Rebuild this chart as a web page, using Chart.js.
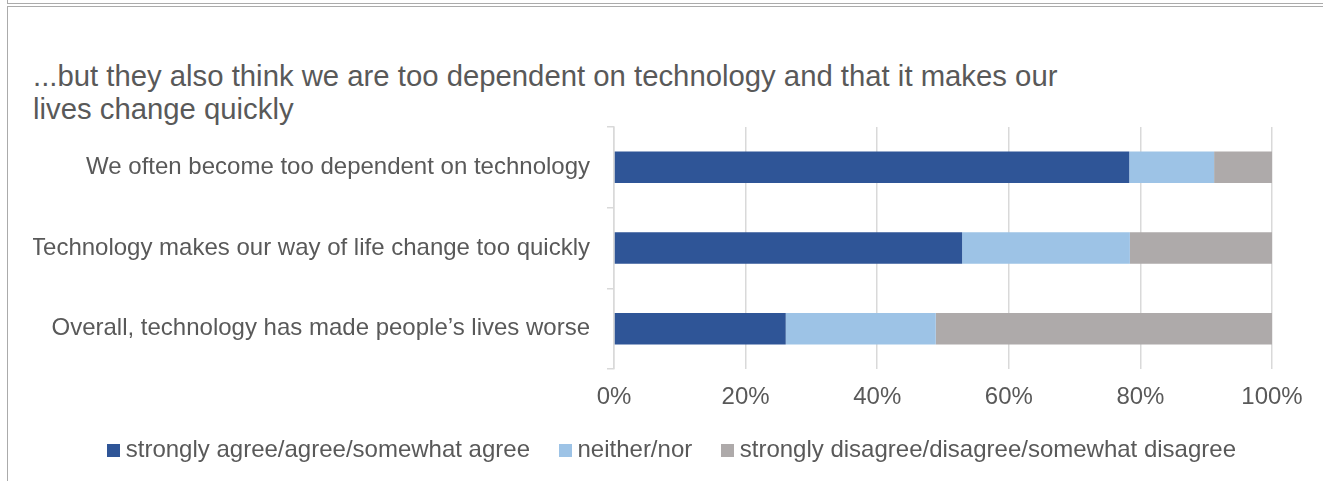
<!DOCTYPE html>
<html>
<head>
<meta charset="utf-8">
<script src="https://cdn.jsdelivr.net/npm/chart.js@4.4.1/dist/chart.umd.min.js"></script>
<style>
  html, body { margin: 0; padding: 0; background: #fff; }
  body { width: 1323px; height: 481px; position: relative; overflow: hidden; font-family: "Liberation Sans", Arial, sans-serif; }
  .topbox { position: absolute; left: 7px; top: -10px; width: 1400px; height: 12px; border: 1.5px solid #ababab; }
  .mainbox { position: absolute; left: 7px; top: 6px; width: 1400px; height: 600px; border: 1.5px solid #ababab; }
  #title { position: absolute; left: 33px; top: 59px; font-size: 29.3px; line-height: 33px; color: #595959; white-space: nowrap; }
  #wrap { position: absolute; left: 0; top: 0; width: 1323px; height: 481px; }
</style>
</head>
<body>
<div class="topbox"></div>
<div class="mainbox"></div>
<div id="title">...but they also think we are too dependent on technology and that it makes our<br>lives change quickly</div>
<div id="wrap"><canvas id="chart" width="1323" height="481"></canvas></div>
<script>
// chart data
const categories = [
    "We often become too dependent on technology",
    "Technology makes our way of life change too quickly",
    "Overall, technology has made people\u2019s lives worse"
];
const seriesNames = [
    "strongly agree/agree/somewhat agree",
    "neither/nor",
    "strongly disagree/disagree/somewhat disagree"
];
const agreeValues = [78.3, 52.9, 26.1];
const neitherValues = [12.9, 25.5, 22.8];
const disagreeValues = [8.8, 21.6, 51.1];
const xTicks = [0, 20, 40, 60, 80, 100];

const textColor = '#595959';
const gridColor = '#d9d9d9';
const colors = ['#2F5597', '#9DC3E6', '#AEAAAA'];
const fontFamily = '"Liberation Sans", Arial, sans-serif';

// small square swatch for the legend (sits close to its text, like Excel)
function makeSwatch(color) {
    const c = document.createElement('canvas');
    c.width = 13;
    c.height = 13;
    const g = c.getContext('2d');
    g.fillStyle = color;
    g.fillRect(0, 0, 13, 13);
    return c;
}
const swatches = colors.map(makeSwatch);

// move the legend row to where Excel put it
const legendNudge = {
    id: 'legendNudge',
    afterLayout(chart) {
        const lg = chart.legend;
        lg.left += 45.25;
        lg.right = chart.width;
        lg.top -= 9;
        lg.bottom -= 9;
    }
};

const ctx = document.getElementById('chart').getContext('2d');

new Chart(ctx, {
    type: 'bar',
    data: {
        labels: categories,
        datasets: [agreeValues, neitherValues, disagreeValues].map((vals, i) => ({
            label: seriesNames[i],
            data: vals,
            backgroundColor: colors[i],
            borderWidth: 0,
            categoryPercentage: 1,
            barPercentage: 0.39
        }))
    },
    options: {
        indexAxis: 'y',
        responsive: false,
        animation: false,
        devicePixelRatio: 1,
        layout: {
            padding: { left: 33, right: 51, top: 127, bottom: 0 }
        },
        scales: {
            x: {
                stacked: true,
                min: 0,
                max: 100,
                afterBuildTicks: function(scale) {
                    scale.ticks = xTicks.map(v => ({ value: v }));
                },
                afterFit: function(scale) {
                    // keep the plot width fixed, labels may overhang
                    scale.paddingLeft = 0;
                    scale.paddingRight = 0;
                    scale.height = 43;
                },
                grid: { color: gridColor, lineWidth: 1.5, drawTicks: false },
                border: { display: false },
                ticks: {
                    padding: 14,
                    color: textColor,
                    font: { family: fontFamily, size: 24 },
                    callback: v => v + '%'
                }
            },
            y: {
                stacked: true,
                offset: true,
                afterFit: function(scale) {
                    scale.width = 614 - 33;
                },
                grid: {
                    offset: true,
                    drawOnChartArea: false,
                    drawTicks: true,
                    tickLength: 7,
                    color: gridColor,
                    lineWidth: 1.5
                },
                border: { display: true, color: gridColor, width: 1.5 },
                ticks: {
                    padding: 17,
                    color: textColor,
                    font: { family: fontFamily, size: 24 }
                }
            }
        },
        plugins: {
            legend: {
                position: 'bottom',
                align: 'start',
                labels: {
                    usePointStyle: true,
                    pointStyleWidth: 0.5,
                    boxHeight: 13,
                    padding: 35,
                    color: textColor,
                    font: { family: fontFamily, size: 24 },
                    generateLabels: function(chart) {
                        const items = Chart.defaults.plugins.legend.labels.generateLabels(chart);
                        items.forEach((item, i) => { item.pointStyle = swatches[i]; });
                        return items;
                    }
                }
            },
            tooltip: { enabled: false }
        }
    },
    plugins: [legendNudge]
});
</script>
</body>
</html>
